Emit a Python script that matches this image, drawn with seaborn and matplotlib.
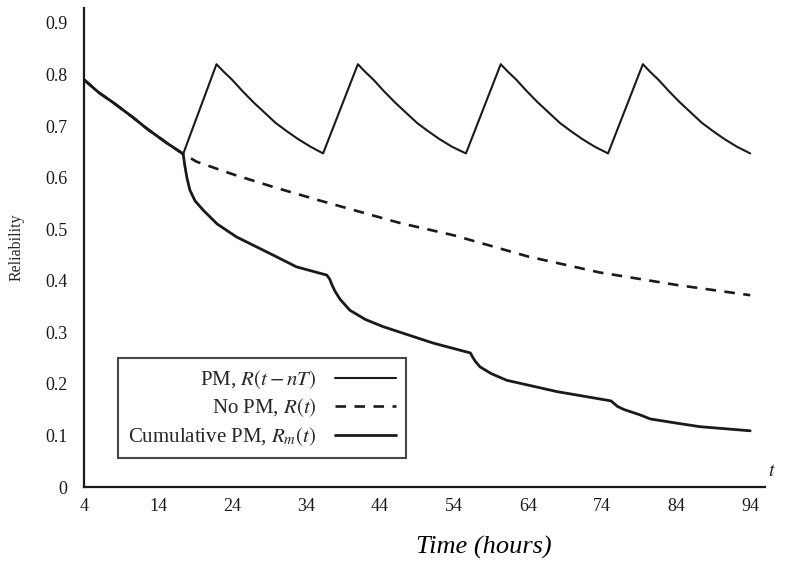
import numpy as np
import pandas as pd
import matplotlib
matplotlib.use("Agg")
import matplotlib.pyplot as plt
import seaborn as sns

# Preventive maintenance: reliability restored at each PM action, R(t - nT)
pm_t = [4.0, 6.0, 8.0, 10.6, 12.5, 15.2, 17.4,
        21.9, 22.9, 24.0, 25.4, 26.9, 28.4, 29.9, 31.4, 32.9, 34.6, 36.3,
        41.0, 42.0, 43.1, 44.5, 46.0, 47.5, 49.0, 50.5, 52.0, 53.7, 55.6,
        60.3, 61.3, 62.4, 63.8, 65.3, 66.8, 68.3, 69.8, 71.3, 73.0, 74.8,
        79.5, 80.5, 81.6, 83.0, 84.5, 86.0, 87.5, 89.0, 90.5, 92.2, 94.0]
pm_r = [0.790, 0.765, 0.745, 0.717, 0.695, 0.667, 0.646,
        0.820, 0.805, 0.790, 0.768, 0.746, 0.726, 0.706, 0.690, 0.675, 0.660, 0.647,
        0.820, 0.805, 0.790, 0.768, 0.746, 0.726, 0.706, 0.690, 0.675, 0.660, 0.647,
        0.820, 0.805, 0.790, 0.768, 0.746, 0.726, 0.706, 0.690, 0.675, 0.660, 0.647,
        0.820, 0.805, 0.790, 0.768, 0.746, 0.726, 0.706, 0.690, 0.675, 0.660, 0.647]

# No preventive maintenance, R(t)
nopm_t = [4.0, 6.0, 8.0, 10.6, 12.5, 15.2, 17.4, 19.2, 24, 30, 36, 41.7, 46.7,
          54, 64, 73.7, 84, 94]
nopm_r = [0.790, 0.765, 0.745, 0.717, 0.695, 0.667, 0.646, 0.631, 0.607, 0.580,
          0.555, 0.532, 0.512, 0.488, 0.447, 0.416, 0.392, 0.372]

# Cumulative reliability with PM, R_m(t)
cum_t = [4.0, 6.0, 8.0, 10.6, 12.5, 15.2, 17.4, 17.6, 17.9, 18.3, 19.0, 20.1,
         22.0, 24.6, 29.1, 32.7, 36.8, 37.2, 37.5, 37.9, 38.6, 39.9, 42.0, 44.4,
         51.2, 56.2, 56.5, 56.9, 57.5, 59.0, 61.1, 67.9, 75.2, 75.6, 76.1, 77.0,
         79.1, 80.5, 84.0, 87.2, 94.0]
cum_r = [0.790, 0.765, 0.745, 0.717, 0.695, 0.667, 0.646, 0.625, 0.600, 0.576,
         0.555, 0.537, 0.510, 0.485, 0.453, 0.427, 0.411, 0.403, 0.392, 0.380,
         0.364, 0.343, 0.325, 0.311, 0.279, 0.260, 0.252, 0.243, 0.233, 0.220,
         0.207, 0.185, 0.167, 0.162, 0.156, 0.150, 0.140, 0.132, 0.124, 0.117,
         0.109]

x_ticks = [4, 14, 24, 34, 44, 54, 64, 74, 84, 94]
y_ticks = [0, 0.1, 0.2, 0.3, 0.4, 0.5, 0.6, 0.7, 0.8, 0.9]
y_tick_labels = ["0", "0.1", "0.2", "0.3", "0.4", "0.5", "0.6", "0.7", "0.8", "0.9"]

labels = ["PM, $R(t - nT)$", "No PM, $R(t)$", "Cumulative PM, $R_m(t)$"]

sns.set_theme(style="white")
plt.rcParams["font.family"] = ["Liberation Serif", "DejaVu Serif"]
plt.rcParams["mathtext.fontset"] = "stix"

fig = plt.figure(figsize=(7.9, 5.63), dpi=100)
ax = fig.add_axes([84 / 790, 76 / 563, (765 - 84) / 790, (487 - 8) / 563])

ink = "#1a1a1a"
pm_df = pd.DataFrame({"t": pm_t, "r": pm_r})
nopm_df = pd.DataFrame({"t": nopm_t, "r": nopm_r})
cum_df = pd.DataFrame({"t": cum_t, "r": cum_r})

sns.lineplot(data=pm_df, x="t", y="r", ax=ax, sort=False, estimator=None,
             color=ink, lw=1.5, label=labels[0])
sns.lineplot(data=nopm_df, x="t", y="r", ax=ax, sort=False, estimator=None,
             color=ink, lw=1.9, linestyle=(0, (4, 3.2)), label=labels[1])
sns.lineplot(data=cum_df, x="t", y="r", ax=ax, sort=False, estimator=None,
             color=ink, lw=2.0, label=labels[2])

ax.set_xlim(4, 96)
ax.set_ylim(0, (487 - 8) / 515.6)
ax.set_xticks(x_ticks)
ax.set_yticks(y_ticks)
ax.set_yticklabels(y_tick_labels)
ax.set_xlabel("")
ax.set_ylabel("Reliability", fontsize=11.5, labelpad=15)

for side in ("top", "right"):
    ax.spines[side].set_visible(False)
for side in ("left", "bottom"):
    ax.spines[side].set_color(ink)
    ax.spines[side].set_linewidth(1.6)

ax.tick_params(axis="both", direction="in", length=11, width=1.5, colors=ink,
               labelsize=13, labelcolor=ink)
ax.tick_params(axis="x", pad=8)
ax.tick_params(axis="y", pad=12)

handles, hlabels = ax.get_legend_handles_labels()
leg = ax.legend(handles, hlabels,
                loc="lower left", bbox_to_anchor=(0.05, 0.06), borderaxespad=0,
                markerfirst=False, fancybox=False, frameon=True, fontsize=15,
                handlelength=2.9, labelspacing=0.28, borderpad=0.5,
                handletextpad=0.9, edgecolor=ink)
leg.get_frame().set_linewidth(1.5)

ax.text(1.005, 0.015, "$t$", transform=ax.transAxes, fontsize=14, color=ink,
        ha="left", va="bottom")

fig.text(484 / 790, 1 - 547 / 563, "Time (hours)", fontsize=19, style="italic",
         ha="center", va="center", color="black")

fig.savefig("out.png", dpi=100, facecolor="white")
